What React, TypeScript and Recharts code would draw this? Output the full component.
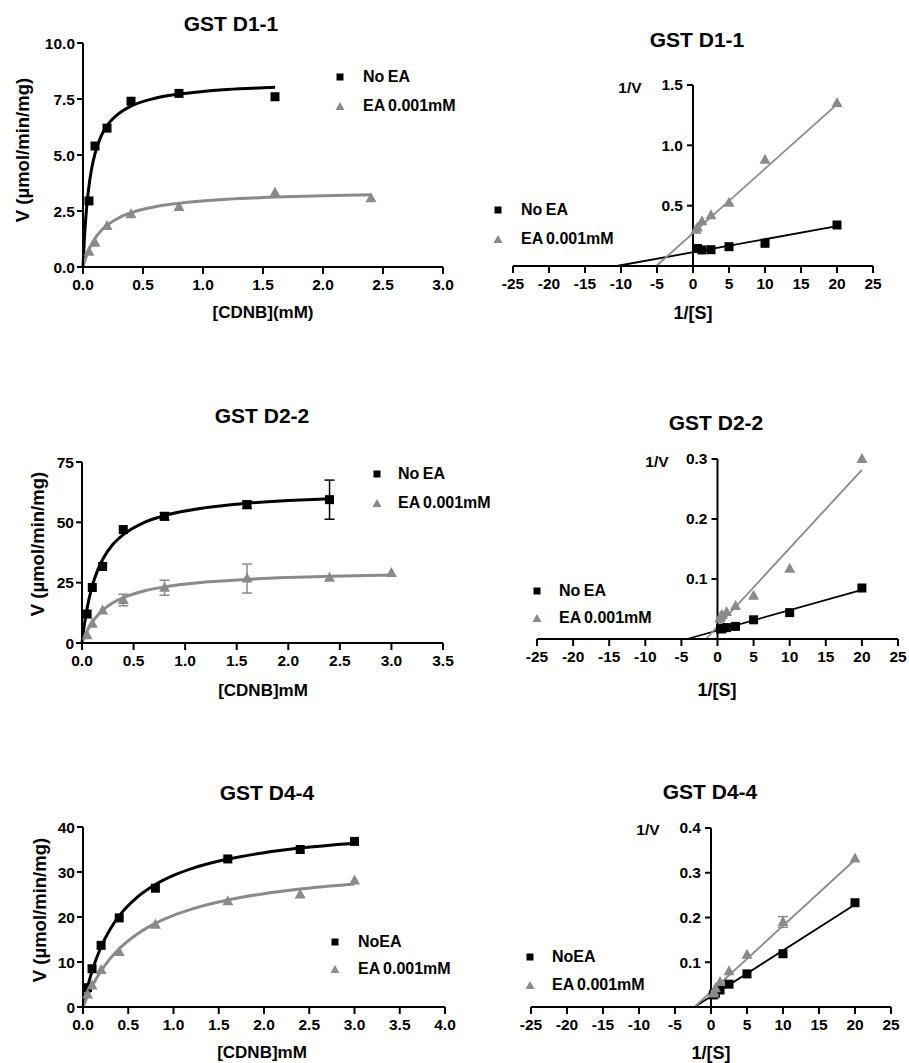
import React from 'react';
import {
  ComposedChart,
  Scatter,
  Line,
  XAxis,
  YAxis,
  ErrorBar,
  ReferenceLine,
  Legend,
} from 'recharts';

const FONT = '"Liberation Sans", Arial, Helvetica, sans-serif';
const BLACK = '#000000';
const GREY = '#8a8a8a';

type Pt = { x: number; y: number; err?: number };

// ---- GST D1-1 (Michaelis-Menten) ----
const d11NoEA: Pt[] = [
  { x: 0.05, y: 2.95 }, { x: 0.1, y: 5.4 }, { x: 0.2, y: 6.2 },
  { x: 0.4, y: 7.4 }, { x: 0.8, y: 7.75 }, { x: 1.6, y: 7.6 },
];
const d11EA: Pt[] = [
  { x: 0.05, y: 0.68 }, { x: 0.1, y: 1.08 }, { x: 0.2, y: 1.83 }, { x: 0.4, y: 2.35 },
  { x: 0.8, y: 2.68 }, { x: 1.6, y: 3.32 }, { x: 2.4, y: 3.07 },
];
const d11NoEAFit: Pt[] = [
  { x: 0, y: 0 }, { x: 0.01, y: 1.11 }, { x: 0.02, y: 1.96 }, { x: 0.03, y: 2.64 },
  { x: 0.05, y: 3.63 }, { x: 0.07, y: 4.33 }, { x: 0.1, y: 5.06 }, { x: 0.15, y: 5.83 },
  { x: 0.2, y: 6.3 }, { x: 0.3, y: 6.86 }, { x: 0.4, y: 7.18 }, { x: 0.6, y: 7.53 },
  { x: 0.8, y: 7.72 }, { x: 1.0, y: 7.84 }, { x: 1.2, y: 7.92 }, { x: 1.6, y: 8.02 },
];
const d11EAFit: Pt[] = [
  { x: 0, y: 0 }, { x: 0.02, y: 0.36 }, { x: 0.05, y: 0.78 }, { x: 0.1, y: 1.28 },
  { x: 0.15, y: 1.62 }, { x: 0.2, y: 1.86 }, { x: 0.3, y: 2.2 }, { x: 0.4, y: 2.42 },
  { x: 0.6, y: 2.69 }, { x: 0.8, y: 2.84 }, { x: 1.2, y: 3.02 }, { x: 1.6, y: 3.12 },
  { x: 2.0, y: 3.18 }, { x: 2.4, y: 3.22 },
];

// ---- GST D1-1 (Lineweaver-Burk) ----
const d11LbNoEA: Pt[] = [
  { x: 0.625, y: 0.145 }, { x: 1.25, y: 0.133 }, { x: 2.5, y: 0.135 },
  { x: 5, y: 0.16 }, { x: 10, y: 0.188 }, { x: 20, y: 0.34 },
];
const d11LbEA: Pt[] = [
  { x: 0.417, y: 0.3 }, { x: 0.625, y: 0.32 }, { x: 1.25, y: 0.37 }, { x: 2.5, y: 0.42 },
  { x: 5, y: 0.525 }, { x: 10, y: 0.88 }, { x: 20, y: 1.35 },
];
const d11LbNoEAFit: Pt[] = [{ x: -10.6, y: 0 }, { x: 20, y: 0.33 }];
const d11LbEAFit: Pt[] = [{ x: -5.1, y: 0 }, { x: 20, y: 1.34 }];

// ---- GST D2-2 (Michaelis-Menten) ----
const d22NoEA: Pt[] = [
  { x: 0.05, y: 12 }, { x: 0.1, y: 23 }, { x: 0.2, y: 31.7 }, { x: 0.4, y: 47 },
  { x: 0.8, y: 52.5, err: 1.5 }, { x: 1.6, y: 57.3, err: 1.5 }, { x: 2.4, y: 59.4, err: 8.1 },
];
const d22EA: Pt[] = [
  { x: 0.05, y: 3.2 }, { x: 0.1, y: 8 }, { x: 0.2, y: 13.5 }, { x: 0.4, y: 17.8, err: 2.4 },
  { x: 0.8, y: 22.9, err: 3.1 }, { x: 1.6, y: 26.7, err: 6 }, { x: 2.4, y: 27 }, { x: 3.0, y: 29 },
];
const d22NoEAFit: Pt[] = [
  { x: 0, y: 0 }, { x: 0.02, y: 6.74 }, { x: 0.05, y: 14.55 }, { x: 0.1, y: 23.7 },
  { x: 0.15, y: 30 }, { x: 0.2, y: 34.6 }, { x: 0.3, y: 40.9 }, { x: 0.4, y: 44.9 },
  { x: 0.6, y: 49.9 }, { x: 0.8, y: 52.8 }, { x: 1.2, y: 56.1 }, { x: 1.6, y: 57.9 },
  { x: 2.0, y: 59.0 }, { x: 2.4, y: 59.8 },
];
const d22EAFit: Pt[] = [
  { x: 0, y: 0 }, { x: 0.02, y: 2.26 }, { x: 0.05, y: 5.08 }, { x: 0.1, y: 8.71 },
  { x: 0.15, y: 11.44 }, { x: 0.2, y: 13.56 }, { x: 0.3, y: 16.64 }, { x: 0.4, y: 18.77 },
  { x: 0.6, y: 21.53 }, { x: 0.8, y: 23.24 }, { x: 1.2, y: 25.24 }, { x: 1.6, y: 26.38 },
  { x: 2.0, y: 27.11 }, { x: 2.4, y: 27.62 }, { x: 3.0, y: 28.15 },
];

// ---- GST D2-2 (Lineweaver-Burk) ----
const d22LbNoEA: Pt[] = [
  { x: 0.417, y: 0.017 }, { x: 0.625, y: 0.017 }, { x: 1.25, y: 0.019 }, { x: 2.5, y: 0.021 },
  { x: 5, y: 0.032 }, { x: 10, y: 0.044 }, { x: 20, y: 0.085 },
];
const d22LbEA: Pt[] = [
  { x: 0.333, y: 0.034 }, { x: 0.417, y: 0.037 }, { x: 0.625, y: 0.04 }, { x: 1.25, y: 0.045 },
  { x: 2.5, y: 0.055 }, { x: 5, y: 0.072 }, { x: 10, y: 0.117 }, { x: 20, y: 0.3 },
];
const d22LbNoEAFit: Pt[] = [{ x: -4.2, y: 0 }, { x: 20, y: 0.082 }];
const d22LbEAFit: Pt[] = [{ x: -1.6, y: 0 }, { x: 20, y: 0.282 }];

// ---- GST D4-4 (Michaelis-Menten) ----
const d44NoEA: Pt[] = [
  { x: 0.05, y: 4.3 }, { x: 0.1, y: 8.5 }, { x: 0.2, y: 13.7 }, { x: 0.4, y: 19.8 },
  { x: 0.8, y: 26.4 }, { x: 1.6, y: 32.9 }, { x: 2.4, y: 35 }, { x: 3.0, y: 36.8 },
];
const d44EA: Pt[] = [
  { x: 0.05, y: 2.8 }, { x: 0.1, y: 4.8 }, { x: 0.2, y: 8.2 }, { x: 0.4, y: 12.2 },
  { x: 0.8, y: 18.3 }, { x: 1.6, y: 23.5 }, { x: 2.4, y: 25 }, { x: 3.0, y: 28.1 },
];
const d44NoEAFit: Pt[] = [
  { x: 0, y: 0 }, { x: 0.05, y: 4.41 }, { x: 0.1, y: 7.98 }, { x: 0.2, y: 13.39 },
  { x: 0.3, y: 17.29 }, { x: 0.4, y: 20.24 }, { x: 0.6, y: 24.41 }, { x: 0.8, y: 27.21 },
  { x: 1.0, y: 29.23 }, { x: 1.2, y: 30.74 }, { x: 1.6, y: 32.87 }, { x: 2.0, y: 34.3 },
  { x: 2.4, y: 35.32 }, { x: 3.0, y: 36.4 },
];
const d44EAFit: Pt[] = [
  { x: 0, y: 0 }, { x: 0.05, y: 2.46 }, { x: 0.1, y: 4.58 }, { x: 0.2, y: 8.05 },
  { x: 0.3, y: 10.76 }, { x: 0.4, y: 12.94 }, { x: 0.6, y: 16.23 }, { x: 0.8, y: 18.59 },
  { x: 1.0, y: 20.37 }, { x: 1.2, y: 21.76 }, { x: 1.6, y: 23.78 }, { x: 2.0, y: 25.19 },
  { x: 2.4, y: 26.23 }, { x: 3.0, y: 27.35 },
];

// ---- GST D4-4 (Lineweaver-Burk) ----
const d44LbNoEA: Pt[] = [
  { x: 0.333, y: 0.027 }, { x: 0.417, y: 0.029 }, { x: 0.625, y: 0.031 }, { x: 1.25, y: 0.038 },
  { x: 2.5, y: 0.051 }, { x: 5, y: 0.074 }, { x: 10, y: 0.119 }, { x: 20, y: 0.233 },
];
const d44LbEA: Pt[] = [
  { x: 0.333, y: 0.03 }, { x: 0.417, y: 0.033 }, { x: 0.625, y: 0.042 }, { x: 1.25, y: 0.056 },
  { x: 2.5, y: 0.08 }, { x: 5, y: 0.117 }, { x: 10, y: 0.19, err: 0.012 }, { x: 20, y: 0.332 },
];
const d44LbNoEAFit: Pt[] = [{ x: -2.3, y: 0 }, { x: 20, y: 0.229 }];
const d44LbEAFit: Pt[] = [{ x: -2.3, y: 0 }, { x: 20, y: 0.329 }];

// ticks
const lbXTicks = [-25, -20, -15, -10, -5, 0, 5, 10, 15, 20, 25];
const d11XTicks = [0, 0.5, 1, 1.5, 2, 2.5, 3];
const d11YTicks = [0, 2.5, 5, 7.5, 10];
const d22XTicks = [0, 0.5, 1, 1.5, 2, 2.5, 3, 3.5];
const d22YTicks = [0, 25, 50, 75];
const d44XTicks = [0, 0.5, 1, 1.5, 2, 2.5, 3, 3.5, 4];
const d44YTicks = [0, 10, 20, 30, 40];
const d11LbYTicks = [0.5, 1.0, 1.5];
const d22LbYTicks = [0.1, 0.2, 0.3];
const d44LbYTicks = [0.1, 0.2, 0.3, 0.4];

type Series = {
  name: string;
  color: string;
  shape: 'square' | 'triangle';
  points: Pt[];
  fit: Pt[];
};

type PanelCfg = {
  kind: 'mm' | 'lb';
  title: string;
  titleAt: [number, number];
  box: { left: number; top: number; width: number; height: number };
  xDomain: [number, number];
  xTicks: number[];
  xDigits: number;
  yDomain: [number, number];
  yTicks: number[];
  yDigits: number;
  xTitle: string;
  xTitleAt: [number, number];
  yTitle: string;
  yTitleAt: [number, number];
  series: Series[];
  legendAt: [number, number];
  legendDx: number;
  legendRow: number;
};

const mmSeries = (noName: string, no: Pt[], noFit: Pt[], ea: Pt[], eaFit: Pt[]): Series[] => [
  { name: noName, color: BLACK, shape: 'square', points: no, fit: noFit },
  { name: 'EA 0.001mM', color: GREY, shape: 'triangle', points: ea, fit: eaFit },
];

const panels: PanelCfg[] = [
  {
    kind: 'mm', title: 'GST D1-1', titleAt: [231, 24],
    box: { left: 83, top: 43, width: 360, height: 224 },
    xDomain: [0, 3], xTicks: d11XTicks, xDigits: 1,
    yDomain: [0, 10], yTicks: d11YTicks, yDigits: 1,
    xTitle: '[CDNB](mM)', xTitleAt: [263, 313],
    yTitle: 'V (µmol/min/mg)', yTitleAt: [23, 150],
    series: mmSeries('No EA', d11NoEA, d11NoEAFit, d11EA, d11EAFit),
    legendAt: [340, 77], legendDx: 23, legendRow: 29,
  },
  {
    kind: 'lb', title: 'GST D1-1', titleAt: [697, 40],
    box: { left: 513, top: 85, width: 360, height: 181 },
    xDomain: [-25, 25], xTicks: lbXTicks, xDigits: 0,
    yDomain: [0, 1.5], yTicks: d11LbYTicks, yDigits: 1,
    xTitle: '1/[S]', xTitleAt: [693, 313],
    yTitle: '1/V', yTitleAt: [630, 88],
    series: mmSeries('No EA', d11LbNoEA, d11LbNoEAFit, d11LbEA, d11LbEAFit),
    legendAt: [498, 210], legendDx: 23, legendRow: 29,
  },
  {
    kind: 'mm', title: 'GST D2-2', titleAt: [262, 416],
    box: { left: 82, top: 462, width: 361, height: 181 },
    xDomain: [0, 3.5], xTicks: d22XTicks, xDigits: 1,
    yDomain: [0, 75], yTicks: d22YTicks, yDigits: 0,
    xTitle: '[CDNB]mM', xTitleAt: [263, 691],
    yTitle: 'V (µmol/min/mg)', yTitleAt: [38, 544],
    series: mmSeries('No EA', d22NoEA, d22NoEAFit, d22EA, d22EAFit),
    legendAt: [377, 474], legendDx: 21, legendRow: 29,
  },
  {
    kind: 'lb', title: 'GST D2-2', titleAt: [716, 423],
    box: { left: 537, top: 459, width: 361, height: 180 },
    xDomain: [-25, 25], xTicks: lbXTicks, xDigits: 0,
    yDomain: [0, 0.3], yTicks: d22LbYTicks, yDigits: 1,
    xTitle: '1/[S]', xTitleAt: [717, 690],
    yTitle: '1/V', yTitleAt: [657, 462],
    series: mmSeries('No EA', d22LbNoEA, d22LbNoEAFit, d22LbEA, d22LbEAFit),
    legendAt: [537, 591], legendDx: 22, legendRow: 27,
  },
  {
    kind: 'mm', title: 'GST D4-4', titleAt: [267, 793],
    box: { left: 83, top: 827, width: 362, height: 180 },
    xDomain: [0, 4], xTicks: d44XTicks, xDigits: 1,
    yDomain: [0, 40], yTicks: d44YTicks, yDigits: 0,
    xTitle: '[CDNB]mM', xTitleAt: [262, 1053],
    yTitle: 'V (µmol/min/mg)', yTitleAt: [40, 910],
    series: mmSeries('NoEA', d44NoEA, d44NoEAFit, d44EA, d44EAFit),
    legendAt: [335, 942], legendDx: 23, legendRow: 27,
  },
  {
    kind: 'lb', title: 'GST D4-4', titleAt: [710, 792],
    box: { left: 531, top: 828, width: 360, height: 179 },
    xDomain: [-25, 25], xTicks: lbXTicks, xDigits: 0,
    yDomain: [0, 0.4], yTicks: d44LbYTicks, yDigits: 1,
    xTitle: '1/[S]', xTitleAt: [711, 1053],
    yTitle: '1/V', yTitleAt: [648, 830],
    series: mmSeries('NoEA', d44LbNoEA, d44LbNoEAFit, d44LbEA, d44LbEAFit),
    legendAt: [530, 957], legendDx: 22, legendRow: 28,
  },
];

const tickFont = { fill: BLACK, fontSize: 15.5, fontWeight: 700, fontFamily: FONT };
const axisStroke = { stroke: BLACK, strokeWidth: 2 };

const fmt = (v: number, d: number) => v.toFixed(d);

// marker drawn at the point given by the scatter's scales
const marker = (shape: 'square' | 'triangle', color: string) => (p: any) => {
  const { cx, cy } = p;
  if (shape === 'square') {
    return <rect x={cx - 4.5} y={cy - 4.5} width={9} height={9} fill={color} />;
  }
  return <polygon points={`${cx},${cy - 6} ${cx + 5.5},${cy + 4} ${cx - 5.5},${cy + 4}`} fill={color} />;
};

// y tick on the axis that sits at x = 0 (centre of a symmetric x domain)
const lbYTick = (label: string) => (p: any) => {
  const x0 = (p.x1 + p.x2) / 2;
  return (
    <g>
      <line x1={x0 - 6} x2={x0} y1={p.y1} y2={p.y1} stroke={BLACK} strokeWidth={2} />
      <text x={x0 - 10} y={p.y1} dy="0.35em" textAnchor="end" {...tickFont}>
        {label}
      </text>
    </g>
  );
};

function LegendBox({ payload, order, dx, row }: any) {
  const items = order
    .map((n: string) => (payload || []).find((e: any) => e.value === n))
    .filter(Boolean);
  return (
    <div>
      {items.map((e: any) => (
        <div key={e.value} style={{ display: 'flex', alignItems: 'center', height: row }}>
          <svg width={12} height={12}>
            {e.type === 'square' ? (
              <rect x={2.5} y={2.5} width={7} height={7} fill={e.color} />
            ) : (
              <polygon points="6,2 10.5,10 1.5,10" fill={e.color} />
            )}
          </svg>
          <span
            style={{
              marginLeft: dx - 6,
              fontFamily: FONT,
              fontWeight: 700,
              fontSize: 16,
              wordSpacing: -1,
              color: BLACK,
              whiteSpace: 'nowrap',
            }}
          >
            {e.value}
          </span>
        </div>
      ))}
    </div>
  );
}

function Caption({ text, at, size, rotate }: { text: string; at: [number, number]; size: number; rotate?: boolean }) {
  return (
    <div
      style={{
        position: 'absolute',
        left: at[0],
        top: at[1],
        transform: `translate(-50%, -50%)${rotate ? ' rotate(-90deg)' : ''}`,
        fontFamily: FONT,
        fontWeight: 700,
        fontSize: size,
        whiteSpace: 'nowrap',
        color: BLACK,
        lineHeight: 1.15,
      }}
    >
      {text}
    </div>
  );
}

function Panel({ cfg }: { cfg: PanelCfg }) {
  const mm = cfg.kind === 'mm';
  const padL = mm ? 60 : 20;
  const padT = 10;
  const padR = 20;
  const axisH = 40;
  const left = cfg.box.left - padL;
  const top = cfg.box.top - padT;
  const width = padL + cfg.box.width + padR;
  const height = padT + cfg.box.height + axisH;
  const order = cfg.series.map((s) => s.name);

  return (
    <>
      <Caption text={cfg.title} at={cfg.titleAt} size={21} />
      <Caption text={cfg.xTitle} at={cfg.xTitleAt} size={mm ? 17 : 18} />
      <Caption text={cfg.yTitle} at={cfg.yTitleAt} size={mm ? 18.5 : 15.5} rotate={mm} />
      <div style={{ position: 'absolute', left, top }}>
        <ComposedChart
          width={width}
          height={height}
          margin={{ top: padT, right: padR, bottom: 0, left: mm ? 0 : padL }}
        >
          <XAxis
            type="number"
            dataKey="x"
            domain={cfg.xDomain}
            ticks={cfg.xTicks}
            interval={0}
            tickFormatter={(v: number) => fmt(v, cfg.xDigits)}
            height={axisH}
            axisLine={axisStroke}
            tickLine={axisStroke}
            tickSize={7}
            tickMargin={5}
            tick={tickFont}
          />
          {mm ? (
            <YAxis
              type="number"
              dataKey="y"
              domain={cfg.yDomain}
              ticks={cfg.yTicks}
              interval={0}
              tickFormatter={(v: number) => fmt(v, cfg.yDigits)}
              width={padL}
              axisLine={axisStroke}
              tickLine={axisStroke}
              tickSize={6}
              tickMargin={2}
              tick={tickFont}
            />
          ) : (
            <YAxis hide type="number" dataKey="y" domain={cfg.yDomain} />
          )}
          {!mm && <ReferenceLine x={0} stroke={BLACK} strokeWidth={2} />}
          {!mm &&
            cfg.yTicks.map((v) => (
              <ReferenceLine key={`yt${v}`} y={v} stroke="none" shape={lbYTick(fmt(v, cfg.yDigits))} />
            ))}
          {cfg.series.map((s) => (
            <Line
              key={`fit-${s.name}`}
              data={s.fit}
              dataKey="y"
              type={mm ? 'monotone' : 'linear'}
              stroke={s.color}
              strokeWidth={mm ? 3 : 1.8}
              dot={false}
              activeDot={false}
              legendType="none"
              isAnimationActive={false}
            />
          ))}
          {cfg.series.map((s) => (
            <Scatter
              key={`pts-${s.name}`}
              name={s.name}
              data={s.points}
              fill={s.color}
              legendType={s.shape}
              shape={marker(s.shape, s.color)}
              isAnimationActive={false}
            >
              {s.points.some((p) => p.err) && (
                <ErrorBar dataKey="err" direction="y" width={5} stroke={s.color} strokeWidth={1.5} />
              )}
            </Scatter>
          ))}
          <Legend
            layout="vertical"
            align="center"
            verticalAlign="middle"
            wrapperStyle={{
              left: cfg.legendAt[0] - 6 - left,
              top: cfg.legendAt[1] - cfg.legendRow / 2 - top,
              width: 'auto',
            }}
            content={(lp: any) => (
              <LegendBox payload={lp.payload} order={order} dx={cfg.legendDx} row={cfg.legendRow} />
            )}
          />
        </ComposedChart>
      </div>
    </>
  );
}

export default function App() {
  return (
    <div
      style={{
        position: 'absolute',
        left: 0,
        top: 0,
        width: 909,
        height: 1063,
        background: '#ffffff',
        overflow: 'hidden',
        fontFamily: FONT,
      }}
    >
      {panels.map((p, i) => (
        <Panel key={i} cfg={p} />
      ))}
    </div>
  );
}
